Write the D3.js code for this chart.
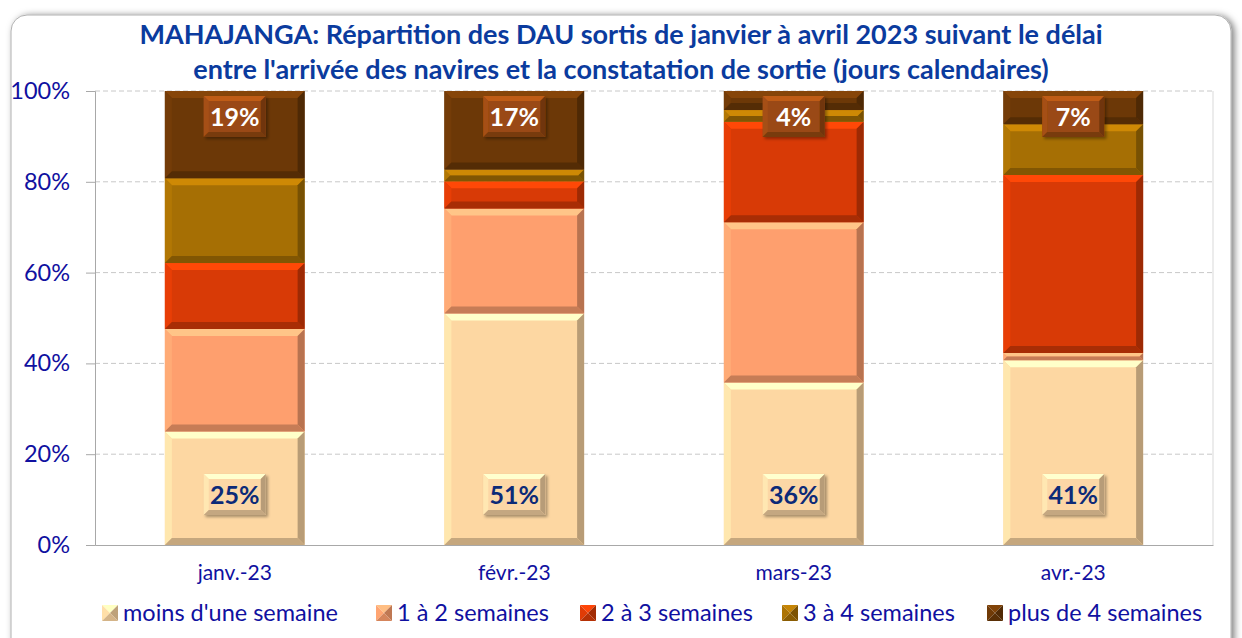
<!DOCTYPE html>
<html>
<head>
<meta charset="utf-8">
<script src="https://cdn.jsdelivr.net/npm/d3@7"></script>
<style>
  body { margin: 0; background: #fff; }
  svg { display: block; font-family: "Lato", "Open Sans", sans-serif; }
</style>
</head>
<body>
<div id="chart"></div>
<script>
// months shown on x axis
var months = ["janv.-23", "févr.-23", "mars-23", "avr.-23"];
// series names (stack order, bottom to top)
var seriesNames = ["moins d'une semaine", "1 à 2 semaines", "2 à 3 semaines", "3 à 4 semaines", "plus de 4 semaines"];
// shares in %
var lessWeek  = [25.0, 51.0, 35.8, 40.7];
var oneTwo    = [22.6, 23.1, 35.3, 1.6];
var twoThree  = [14.5, 6.0, 22.1, 39.2];
var threeFour = [18.7, 2.6, 2.6, 11.2];
var moreFour  = [19.2, 17.3, 4.2, 7.3];
var yTicks = [0, 20, 40, 60, 80, 100];

var colors = ["#fdd7a2", "#fe9f6e", "#d83a06", "#a66f04", "#6c3807"];

var W = 1242, H = 638;
var margin = {top: 91, right: 29, bottom: 93, left: 95};
var width = W - margin.left - margin.right,
    height = H - margin.top - margin.bottom;

var svg = d3.select("#chart").append("svg")
    .attr("width", W)
    .attr("height", H);

var defs = svg.append("defs");
var sh = defs.append("filter").attr("id", "shadow").attr("x", "-20%").attr("y", "-20%").attr("width", "150%").attr("height", "150%");
sh.append("feDropShadow").attr("dx", 2).attr("dy", 2).attr("stdDeviation", 1.5).attr("flood-color", "#000").attr("flood-opacity", 0.35);
var cardSh = defs.append("filter").attr("id", "cardShadow").attr("x", "-5%").attr("y", "-5%").attr("width", "110%").attr("height", "120%");
cardSh.append("feDropShadow").attr("dx", 3).attr("dy", 1).attr("stdDeviation", 3.5).attr("flood-color", "#000").attr("flood-opacity", 0.5);

// card behind chart
svg.append("rect")
    .attr("x", 11).attr("y", 15)
    .attr("width", 1220).attr("height", 640)
    .attr("rx", 16)
    .attr("fill", "#fff")
    .attr("stroke", "#b0b0b0")
    .attr("filter", "url(#cardShadow)");

// title
var title = svg.append("text")
    .attr("text-anchor", "middle")
    .attr("fill", "#0b3b9e")
    .attr("font-weight", "bold")
    .attr("font-size", "27px");
title.append("tspan").attr("x", 621).attr("y", 44)
    .text("MAHAJANGA: Répartition des DAU sortis de janvier à avril 2023 suivant le délai");
title.append("tspan").attr("x", 621).attr("y", 79)
    .text("entre l'arrivée des navires et la constatation de sortie (jours calendaires)");

var g = svg.append("g")
    .attr("transform", "translate(" + margin.left + "," + margin.top + ")");

var x = d3.scaleBand()
    .domain(months)
    .range([0, width])
    .paddingInner(0.5)
    .paddingOuter(0.25);

var y = d3.scaleLinear()
    .domain([0, 100])
    .range([height, 0]);

// grid lines
g.selectAll(".grid")
    .data(yTicks.filter(function(d) { return d > 0; }))
    .enter().append("line")
    .attr("x1", 0).attr("x2", width)
    .attr("y1", function(d) { return y(d); })
    .attr("y2", function(d) { return y(d); })
    .attr("stroke", "#c8c8c8")
    .attr("stroke-dasharray", "5,3");

// plot right border
g.append("line")
    .attr("x1", width).attr("x2", width)
    .attr("y1", 0).attr("y2", height)
    .attr("stroke", "#d9d9d9");

// y axis
var yAxis = g.append("g")
    .call(d3.axisLeft(y).tickValues(yTicks).tickFormat(function(d) { return d + "%"; }).tickSize(9).tickPadding(16));
yAxis.select(".domain").attr("stroke", "#a8a8a8");
yAxis.selectAll(".tick line").attr("stroke", "#a8a8a8");
yAxis.selectAll("text").attr("fill", "#1010a0").attr("font-size", "23.5px").attr("font-family", "Lato, sans-serif");

// x axis
var xAxis = g.append("g")
    .attr("transform", "translate(0," + height + ")")
    .call(d3.axisBottom(x).tickSize(0).tickPadding(20));
xAxis.select(".domain").attr("stroke", "#a8a8a8");
xAxis.selectAll("text").attr("fill", "#1010a0").attr("font-size", "21px").attr("font-family", "Lato, sans-serif");

// stacked data
var table = months.map(function(m, i) {
    return {month: m, s0: lessWeek[i], s1: oneTwo[i], s2: twoThree[i], s3: threeFour[i], s4: moreFour[i]};
});
var keys = ["s0", "s1", "s2", "s3", "s4"];
var stack = d3.stack().keys(keys)(table);

// draw a bevelled rectangle
function bevel(sel, x0, y0, w, h, fill, b) {
    b = Math.min(b, h / 2, w / 2);
    var c = d3.color(fill);
    sel.append("rect").attr("x", x0).attr("y", y0).attr("width", w).attr("height", h).attr("fill", fill);
    if (b <= 0.5) return;
    var pts = {
        top: [[x0, y0], [x0 + w, y0], [x0 + w - b, y0 + b], [x0 + b, y0 + b]],
        left: [[x0, y0], [x0 + b, y0 + b], [x0 + b, y0 + h - b], [x0, y0 + h]],
        right: [[x0 + w, y0], [x0 + w, y0 + h], [x0 + w - b, y0 + h - b], [x0 + w - b, y0 + b]],
        bottom: [[x0, y0 + h], [x0 + b, y0 + h - b], [x0 + w - b, y0 + h - b], [x0 + w, y0 + h]]
    };
    var shade = {
        top: c.brighter(0.6),
        left: c.brighter(0.2),
        right: c.darker(0.9),
        bottom: c.darker(0.7)
    };
    Object.keys(pts).forEach(function(k) {
        sel.append("polygon")
            .attr("points", pts[k].map(function(p) { return p.join(","); }).join(" "))
            .attr("fill", shade[k]);
    });
}

var layers = g.selectAll(".layer")
    .data(stack)
    .enter().append("g")
    .attr("class", "layer");

layers.each(function(layer, li) {
    var lg = d3.select(this);
    layer.forEach(function(d) {
        var x0 = x(d.data.month);
        var y0 = y(d[1]);
        var h = y(d[0]) - y(d[1]);
        bevel(lg.append("g"), x0, y0, x.bandwidth(), h, colors[li], 7);
    });
});

// labels: bottom series at base, top series at end
function labelBox(cx, cy, txt, fill, textColor) {
    var w = 62, h = 41;
    var lg = g.append("g").attr("filter", "url(#shadow)");
    bevel(lg, cx - w / 2, cy - h / 2, w, h, fill, 5);
    g.append("text")
        .attr("x", cx).attr("y", cy + 9)
        .attr("text-anchor", "middle")
        .attr("font-weight", "bold")
        .attr("font-size", "25px")
        .attr("fill", textColor)
        .text(txt);
}

table.forEach(function(d) {
    var cx = x(d.month) + x.bandwidth() / 2;
    labelBox(cx, y(0) - 50.5, Math.round(d.s0) + "%", "#fcd7a6", "#0c2a78");
    labelBox(cx, y(100) + 25.5, Math.round(d.s4) + "%", "#9a4a12", "#ffffff");
});

// legend
var legendX = [102, 376, 580, 782, 987];
var legend = svg.selectAll(".legend")
    .data(seriesNames)
    .enter().append("g")
    .attr("class", "legend")
    .attr("transform", function(d, i) { return "translate(" + legendX[i] + ",605)"; });

legend.each(function(d, i) {
    var lg = d3.select(this);
    var c = d3.color(colors[i]);
    var s = 16;
    lg.append("polygon").attr("points", "0,0 " + s + ",0 " + s / 2 + "," + s / 2).attr("fill", c.brighter(0.5));
    lg.append("polygon").attr("points", "0,0 " + s / 2 + "," + s / 2 + " 0," + s).attr("fill", c.brighter(0.1));
    lg.append("polygon").attr("points", s + ",0 " + s + "," + s + " " + s / 2 + "," + s / 2).attr("fill", c.darker(0.8));
    lg.append("polygon").attr("points", "0," + s + " " + s + "," + s + " " + s / 2 + "," + s / 2).attr("fill", c.darker(0.5));
    lg.append("text")
        .attr("x", s + 5).attr("y", 16)
        .attr("font-size", "23.5px")
        .attr("fill", "#1010a0")
        .text(d);
});
</script>
</body>
</html>
